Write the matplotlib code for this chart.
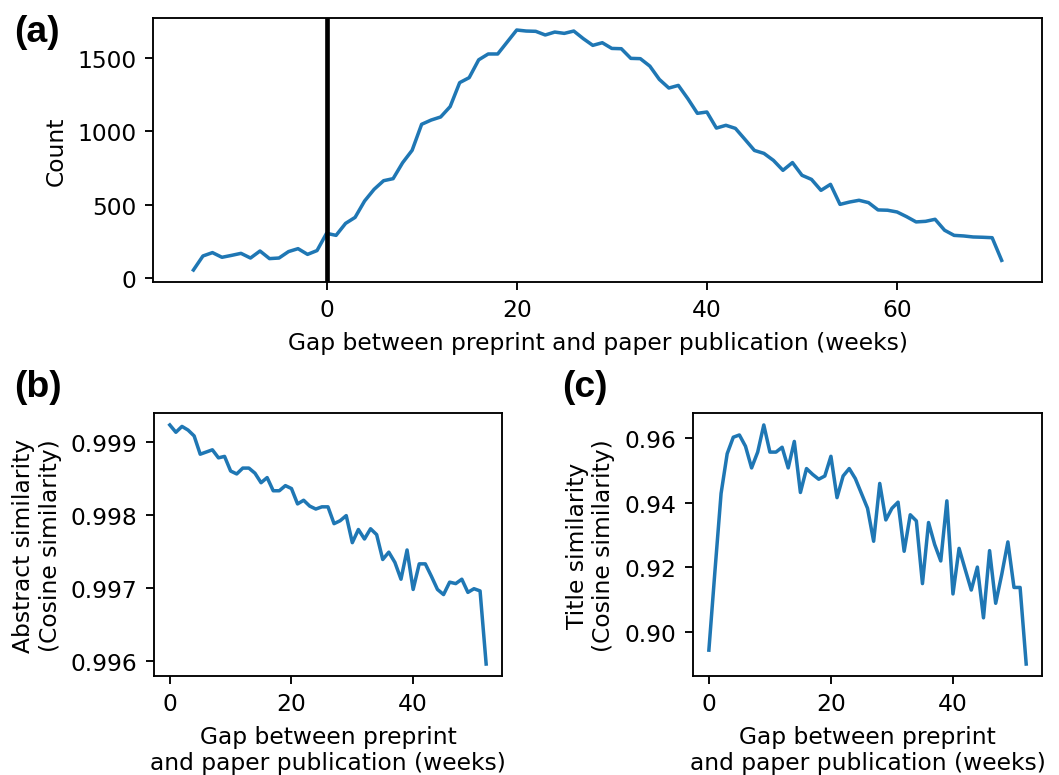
import numpy as np
import matplotlib
matplotlib.use("Agg")
import matplotlib.pyplot as plt
from matplotlib.ticker import FormatStrFormatter

# (a) number of preprints per gap (weeks), weeks -14 .. 71
gap_weeks = list(range(-14, 72))
gap_counts = [52, 148, 171, 139, 152, 166, 134, 182, 130, 134,
              178, 198, 159, 185, 303, 289, 371, 412, 524, 604,
              663, 677, 786, 871, 1049, 1078, 1099, 1170, 1334, 1368,
              1490, 1530, 1530, 1612, 1694, 1687, 1685, 1660, 1680, 1671,
              1687, 1635, 1589, 1607, 1568, 1566, 1500, 1498, 1447, 1356,
              1297, 1315, 1224, 1124, 1133, 1023, 1042, 1021, 946, 870,
              850, 802, 734, 787, 700, 672, 597, 638, 501, 517,
              529, 513, 463, 461, 449, 417, 381, 385, 399, 324,
              289, 285, 278, 276, 273, 118]

# (b) and (c) similarity vs gap, weeks 0 .. 52
sim_weeks = list(range(0, 53))
abstract_sim = [0.99923, 0.99913, 0.99921, 0.99916, 0.99908, 0.99883, 0.99886, 0.99889, 0.99878, 0.99880,
                0.99860, 0.99856, 0.99864, 0.99864, 0.99857, 0.99844, 0.99851, 0.99833, 0.99833, 0.99840,
                0.99836, 0.99815, 0.99820, 0.99812, 0.99808, 0.99811, 0.99811, 0.99788, 0.99792, 0.99799,
                0.99762, 0.99780, 0.99767, 0.99781, 0.99773, 0.99739, 0.99749, 0.99735, 0.99712, 0.99752,
                0.99698, 0.99733, 0.99733, 0.99716, 0.99698, 0.99691, 0.99708, 0.99706, 0.99712, 0.99694,
                0.99699, 0.99696, 0.99596]
title_sim = [0.8944, 0.9190, 0.9429, 0.9552, 0.9603, 0.9610, 0.9575, 0.9508, 0.9557, 0.9641,
             0.9557, 0.9557, 0.9572, 0.9508, 0.9590, 0.9432, 0.9506, 0.9488, 0.9473, 0.9483,
             0.9544, 0.9416, 0.9483, 0.9506, 0.9475, 0.9429, 0.9383, 0.9281, 0.9460, 0.9347,
             0.9383, 0.9402, 0.9250, 0.9363, 0.9344, 0.9150, 0.9339, 0.9271, 0.9220, 0.9406,
             0.9118, 0.9259, 0.9194, 0.9130, 0.9201, 0.9044, 0.9252, 0.9089, 0.9179, 0.9279,
             0.9138, 0.9138, 0.8901]

DPI = 168
plt.rcParams['font.size'] = 10
fig = plt.figure(figsize=(1059 / DPI, 776 / DPI), dpi=DPI)

# top panel
ax_a = fig.add_axes([0.1445, 0.6353, 0.8395, 0.3402])
ax_a.plot(gap_weeks, gap_counts)
ax_a.axvline(0, color="black", lw=2)
ax_a.set_yticks([0, 500, 1000, 1500])
ax_a.set_ylabel("Count")
ax_a.set_xlabel("Gap between preprint and paper publication (weeks)")

# bottom left
ax_b = fig.add_axes([0.1454, 0.1276, 0.3286, 0.3389])
ax_b.plot(sim_weeks, abstract_sim)
ax_b.set_yticks([0.996, 0.997, 0.998, 0.999])
ax_b.yaxis.set_major_formatter(FormatStrFormatter('%.3f'))
ax_b.set_xticks([0, 20, 40])
ax_b.set_ylabel("Abstract similarity\n(Cosine similarity)")
ax_b.set_xlabel("Gap between preprint\nand paper publication (weeks)")

# bottom right
ax_c = fig.add_axes([0.6544, 0.1276, 0.3296, 0.3389])
ax_c.plot(sim_weeks, title_sim)
ax_c.set_yticks([0.90, 0.92, 0.94, 0.96])
ax_c.yaxis.set_major_formatter(FormatStrFormatter('%.2f'))
ax_c.set_xticks([0, 20, 40])
ax_c.set_ylabel("Title similarity\n(Cosine similarity)")
ax_c.set_xlabel("Gap between preprint\nand paper publication (weeks)")

# panel letters
lab = dict(fontsize=16, fontweight="bold", family=["Liberation Sans", "DejaVu Sans"], va="top", ha="left")
fig.text(14 / 1059, 1 - 15 / 776, "(a)", **lab)
fig.text(14 / 1059, 1 - 370 / 776, "(b)", **lab)
fig.text(562 / 1059, 1 - 370 / 776, "(c)", **lab)

fig.savefig("out.png", dpi=DPI)
